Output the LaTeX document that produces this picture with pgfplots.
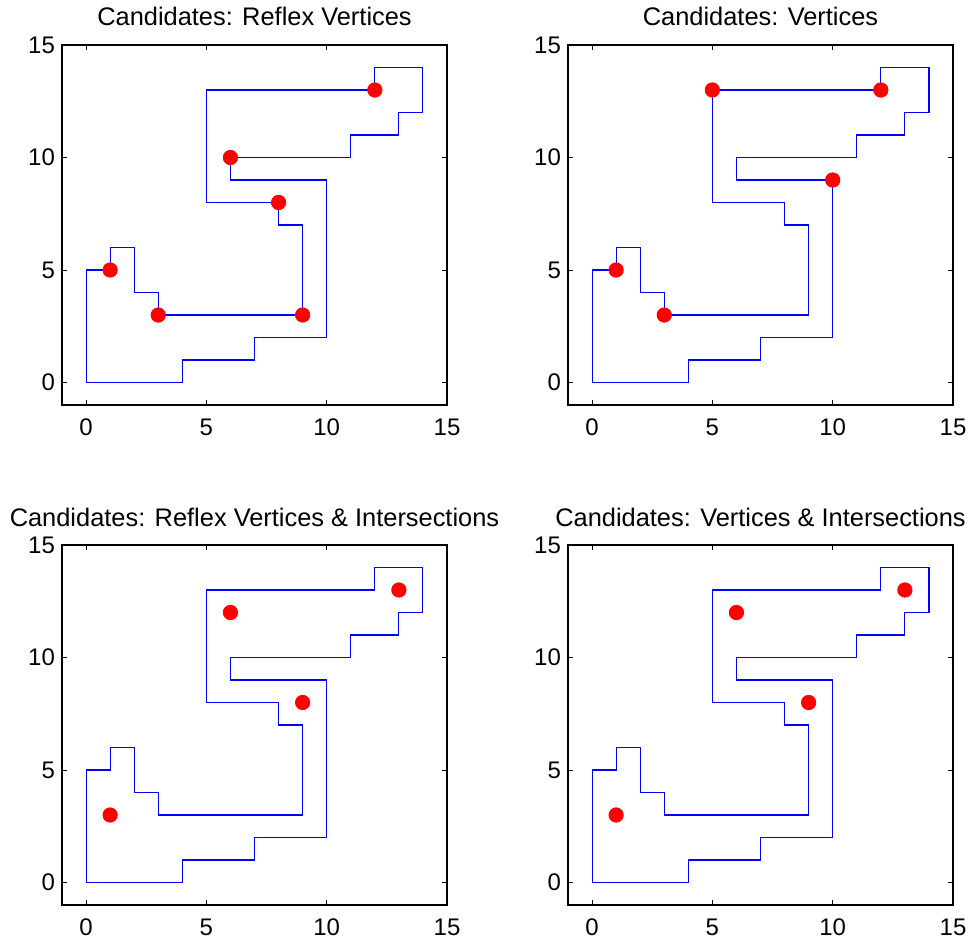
\documentclass[border=0pt]{standalone}
\usepackage{fontspec}
\setmainfont{Liberation Sans}
\usepackage{pgfplots}
\usepackage{pgfplotstable}
\pgfplotsset{compat=1.18}

% Rectilinear polygon (closed)
\pgfplotstableread{
x y
0 0
4 0
4 1
7 1
7 2
10 2
10 9
6 9
6 10
11 10
11 11
13 11
13 12
14 12
14 14
12 14
12 13
5 13
5 8
8 8
8 7
9 7
9 3
3 3
3 4
2 4
2 6
1 6
1 5
0 5
0 0
}\polygon

% Candidate guard positions
\pgfplotstableread{
x y
1 5
3 3
9 3
8 8
6 10
12 13
}\reflex

\pgfplotstableread{
x y
1 5
3 3
5 13
12 13
10 9
}\vertices

\pgfplotstableread{
x y
1 3
6 12
9 8
13 13
}\reflexinter

\pgfplotstableread{
x y
1 3
6 12
9 8
13 13
}\vertinter

\pgfplotsset{
  room/.style={
    scale only axis, width=192.5pt, height=180pt,
    xmin=-1, xmax=15, ymin=-1, ymax=15,
    xtick={0,5,10,15}, ytick={0,5,10,15},
    tick align=inside, major tick length=2.5pt,
    axis line style={line width=0.6pt, black},
    tick style={line width=0.5pt, black},
    ticklabel style={font=\fontsize{12}{14}\selectfont},
    /pgf/number format/assume math mode=true,
    xticklabel style={anchor=base, yshift=-15pt},
    title style={at={(0.5,1)}, anchor=base, yshift=3.5pt,
      font=\fontsize{12.7}{15}\selectfont},
    clip=false,
  },
  outline/.style={color=blue, line width=0.55pt, mark=none},
  guard/.style={only marks, mark=*, mark size=3.6pt,
    mark options={fill=red, draw=red}},
}

\begin{document}
\begin{tikzpicture}
\path[use as bounding box] (0,0) rectangle (486pt,469.5pt);

\begin{axis}[room, at={(31pt,267pt)}, anchor=south west,
  title={Candidates: Reflex Vertices}]
  \addplot[outline] table {\polygon};
  \addplot[guard] table {\reflex};
\end{axis}

\begin{axis}[room, at={(284pt,267pt)}, anchor=south west,
  title={Candidates: Vertices}]
  \addplot[outline] table {\polygon};
  \addplot[guard] table {\vertices};
\end{axis}

\begin{axis}[room, at={(31pt,17pt)}, anchor=south west,
  title={Candidates: Reflex Vertices \& Intersections}]
  \addplot[outline] table {\polygon};
  \addplot[guard] table {\reflexinter};
\end{axis}

\begin{axis}[room, at={(284pt,17pt)}, anchor=south west,
  title={Candidates: Vertices \& Intersections}]
  \addplot[outline] table {\polygon};
  \addplot[guard] table {\vertinter};
\end{axis}
\end{tikzpicture}
\end{document}
